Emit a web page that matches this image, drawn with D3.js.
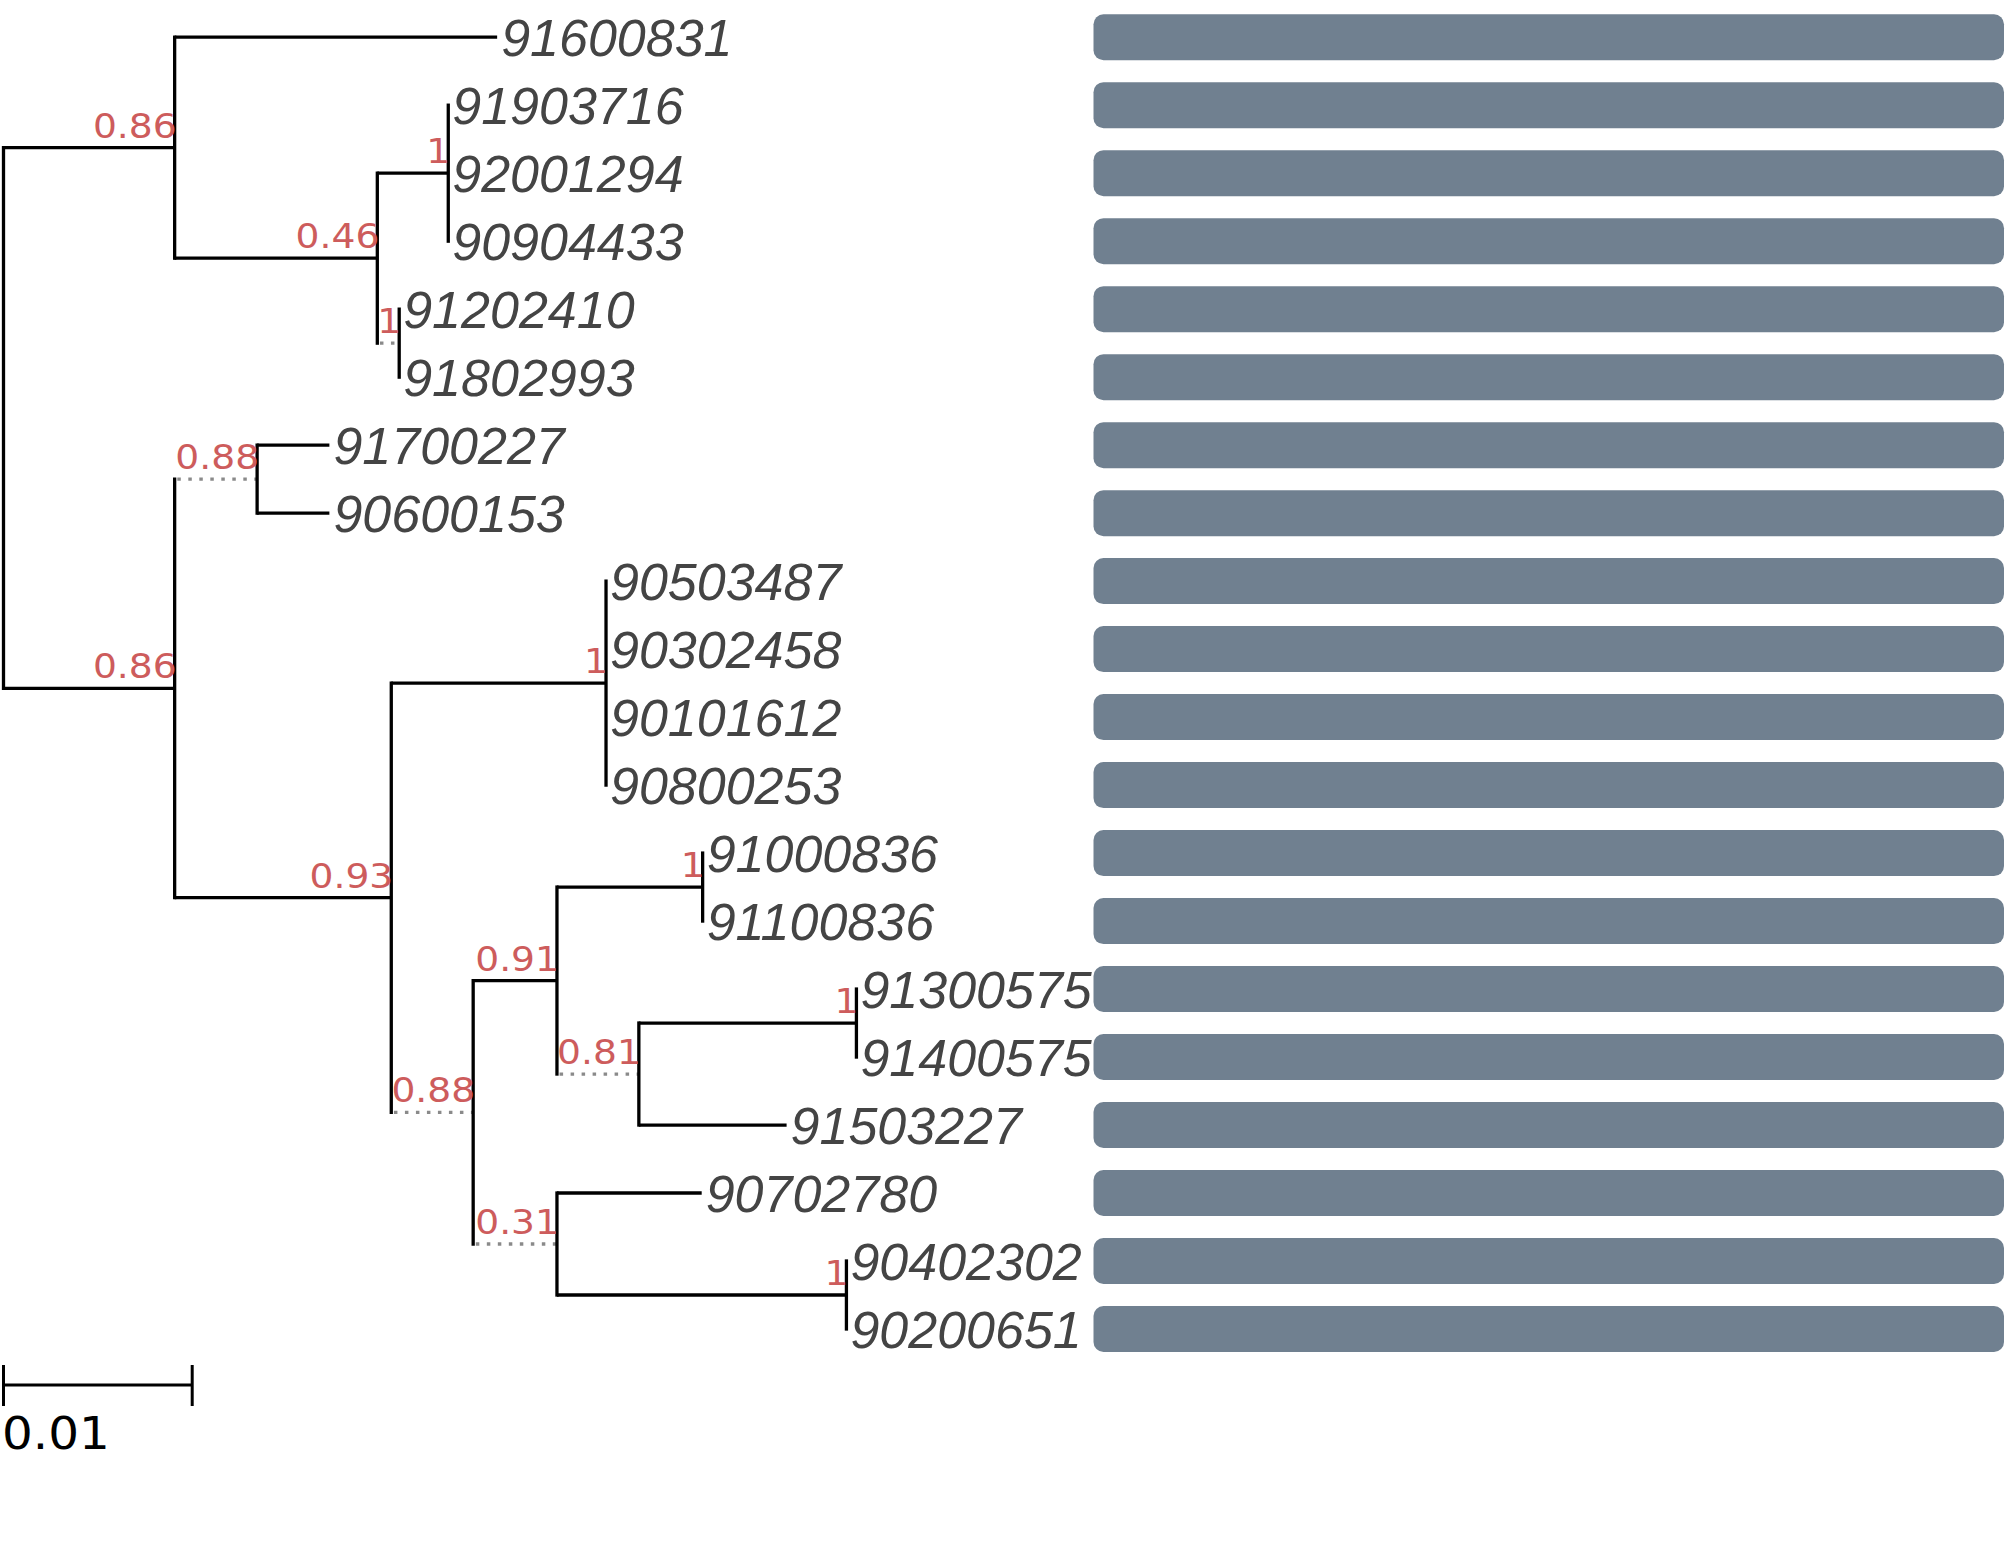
<!DOCTYPE html>
<html>
<head>
<meta charset="utf-8">
<script src="https://cdn.jsdelivr.net/npm/d3@7"></script>
<style>
  html, body { margin: 0; padding: 0; background: #ffffff; }
  svg { display: block; }
</style>
</head>
<body>
<svg id="chart" width="2007" height="1555"></svg>
<script>
// ---- Tree data (node table) ----
const nodeIds = [
  "root",
  "A", "91600831", "B", "C", "91903716", "92001294", "90904433", "D", "91202410", "91802993",
  "F", "E", "91700227", "90600153", "G", "H", "90503487", "90302458", "90101612", "90800253",
  "I", "J", "K", "91000836", "91100836", "L", "M", "91300575", "91400575", "91503227",
  "N", "90702780", "O", "90402302", "90200651"
];
const parentIds = [
  "",
  "root", "A", "A", "B", "C", "C", "C", "B", "D", "D",
  "root", "F", "E", "E", "F", "G", "H", "H", "H", "H",
  "G", "I", "J", "K", "K", "J", "L", "M", "M", "L",
  "I", "N", "N", "O", "O"
];
const branchLengths = [
  0,
  0.00907, 0.01709, 0.01074, 0.00376, 0, 0, 0, 0.00116, 0, 0,
  0.00907, 0.00437, 0.00383, 0.00383, 0.01148, 0.01138, 0, 0, 0, 0,
  0.00434, 0.00444, 0.00772, 0, 0, 0.00434, 0.01153, 0, 0, 0.00783,
  0.00444, 0.00767, 0.01534, 0, 0
];
const supports = [
  null,
  "0.86", null, "0.46", "1", null, null, null, "1", null, null,
  "0.86", "0.88", null, null, "0.93", "1", null, null, null, null,
  "0.88", "0.91", "1", null, null, "0.81", "1", null, null, null,
  "0.31", null, "1", null, null
];
const dottedBranch = [
  false,
  false, false, false, false, false, false, false, true, false, false,
  false, true, false, false, false, false, false, false, false, false,
  true, false, false, false, false, true, false, false, false, false,
  true, false, false, false, false
];
// bar track values (one per leaf, full length)
const barValues = [1,1,1,1,1,1,1,1,1,1,1,1,1,1,1,1,1,1,1,1];
// scale bar
const scaleBarValue = 0.01;
const scaleBarLabel = "0.01";

// ---- Build hierarchy ----
const table = nodeIds.map((id, i) => ({
  id, parent: parentIds[i] || null, len: branchLengths[i],
  support: supports[i], dotted: dottedBranch[i]
}));
const root = d3.stratify().id(d => d.id).parentId(d => d.parent)(table);

// cumulative distance
root.eachBefore(n => { n.dist = n.parent ? n.parent.dist + n.data.len : 0; });

const leaves = root.leaves();
const xScale = d3.scaleLinear().domain([0, 0.01]).range([3.5, 192.2]);
const yScale = d3.scaleLinear().domain([0, leaves.length - 1]).range([37.2, 1329]);

leaves.forEach((l, i) => { l.idx = i; l.py = yScale(i); });
root.eachAfter(n => {
  if (n.children) n.py = d3.mean(n.children, c => c.py);
  n.px = xScale(n.dist);
});

const svg = d3.select("#chart");
const g = svg.append("g");
const SW = 3.3;

// horizontal branches
const links = root.descendants().filter(n => n.parent);
g.selectAll("line.h").data(links.filter(n => n.px - n.parent.px > 0.01)).join("line")
  .attr("class", "h")
  .attr("x1", d => d.parent.px + (d.data.dotted ? SW/2 + 1 : 0))
  .attr("x2", d => d.px)
  .attr("y1", d => d.py).attr("y2", d => d.py)
  .attr("stroke", d => d.data.dotted ? "#8a8a8a" : "#000")
  .attr("stroke-width", SW)
  .attr("stroke-dasharray", d => d.data.dotted ? "3.5 7.5" : null);

// vertical connectors
const internals = root.descendants().filter(n => n.children);
g.selectAll("line.v").data(internals).join("line")
  .attr("class", "v")
  .attr("x1", d => d.px).attr("x2", d => d.px)
  .attr("y1", d => d3.min(d.children, c => c.py) - SW/2)
  .attr("y2", d => d3.max(d.children, c => c.py) + SW/2)
  .attr("stroke", "#000").attr("stroke-width", SW);

// support labels (slightly wide sans)
g.selectAll("text.sup").data(internals.filter(n => n.data.support)).join("text")
  .attr("class", "sup")
  .attr("transform", d => `translate(${d.px + 2},${d.py - 10}) scale(1.14,1)`)
  .attr("text-anchor", "end")
  .attr("font-family", "DejaVu Sans")
  .attr("font-size", 33)
  .attr("fill", "#CD5C5C")
  .text(d => d.data.support);

// leaf labels
g.selectAll("text.leaf").data(leaves).join("text")
  .attr("class", "leaf")
  .attr("x", d => d.px + 4)
  .attr("y", d => d.py + 19)
  .attr("font-family", "Liberation Sans")
  .attr("font-style", "italic")
  .attr("font-size", 52)
  .attr("fill", "#444444")
  .text(d => d.id);

// bars
const barX = d3.scaleLinear().domain([0, 1]).range([1093.5, 2004]);
const barH = 46;
g.selectAll("rect.bar").data(leaves).join("rect")
  .attr("class", "bar")
  .attr("x", barX(0))
  .attr("y", d => d.py - barH / 2)
  .attr("width", (d, i) => barX(barValues[i]) - barX(0))
  .attr("height", barH)
  .attr("rx", 10).attr("ry", 10)
  .attr("fill", "#708090");

// scale bar
const sbY = 1385;
const sb = svg.append("g");
const x0 = xScale(0), x1 = xScale(scaleBarValue);
sb.append("line").attr("x1", x0).attr("x2", x1).attr("y1", sbY).attr("y2", sbY)
  .attr("stroke", "#000").attr("stroke-width", 3);
[x0, x1].forEach(x => sb.append("line").attr("x1", x).attr("x2", x)
  .attr("y1", sbY - 20).attr("y2", sbY + 21).attr("stroke", "#000").attr("stroke-width", 3));
sb.append("text").attr("transform", "translate(2,1449) scale(1.1,1)")
  .attr("font-family", "DejaVu Sans").attr("font-size", 44).attr("fill", "#000")
  .text(scaleBarLabel);
</script>
</body>
</html>
